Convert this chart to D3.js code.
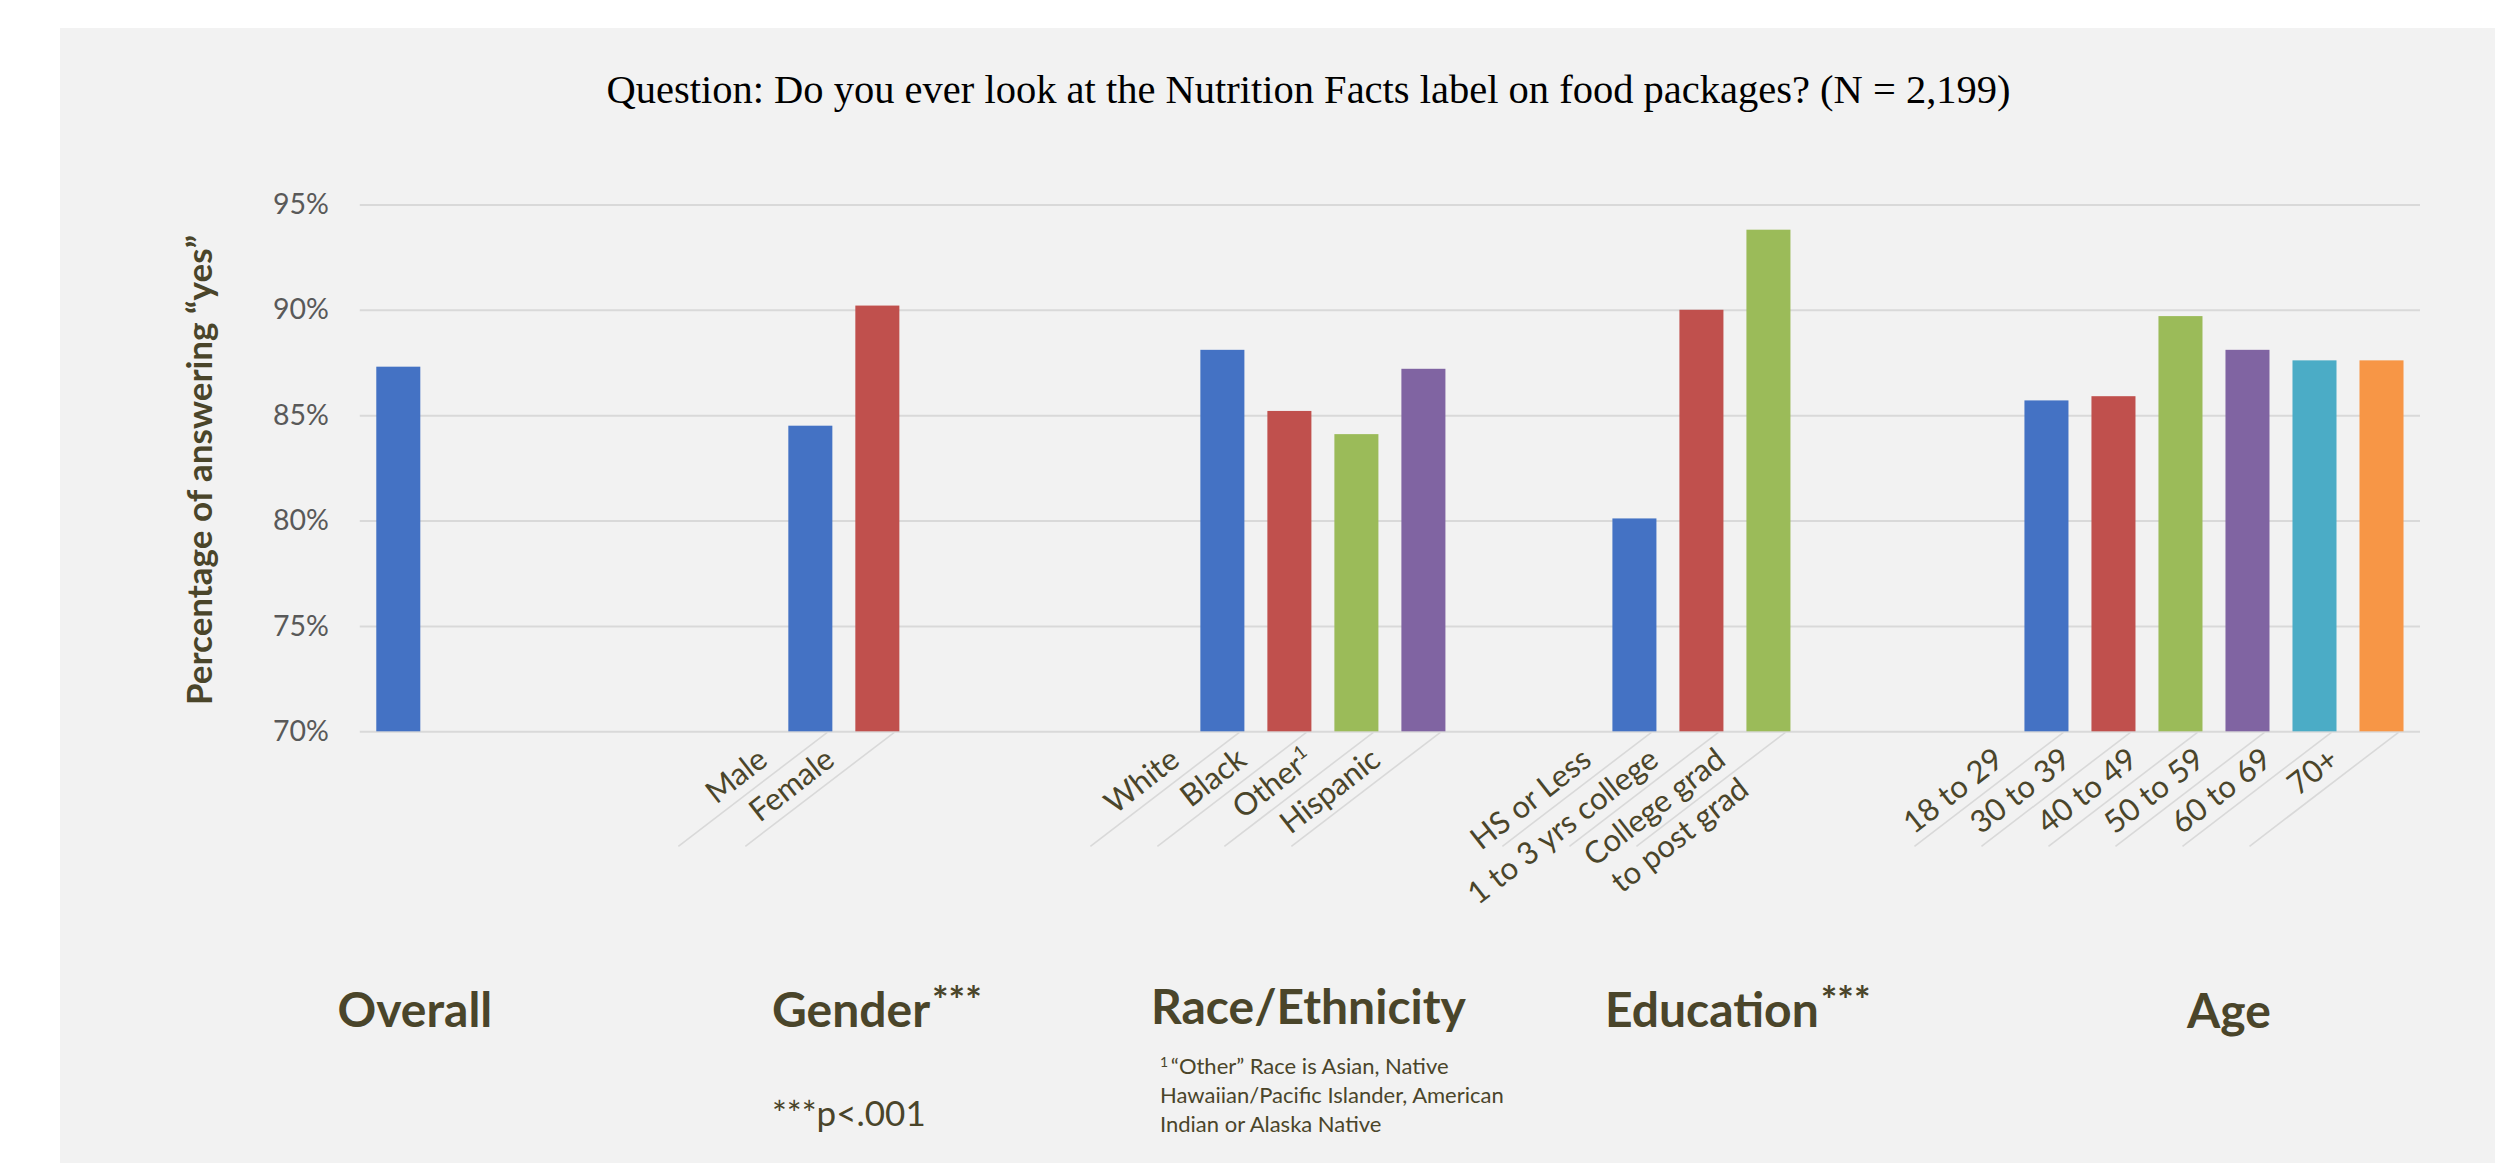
<!DOCTYPE html>
<html>
<head>
<meta charset="utf-8">
<script src="https://cdn.jsdelivr.net/npm/d3@7"></script>
<style>
  html, body { margin: 0; padding: 0; background: #ffffff; }
  svg { display: block; }
</style>
</head>
<body>
<svg id="chart" width="2495" height="1163"></svg>
<script>
// ---- data ----
const title = "Question: Do you ever look at the Nutrition Facts label on food packages? (N = 2,199)";
const yTitle = "Percentage of answering \u201Cyes\u201D";
const groups = ["Overall", "Gender", "Race/Ethnicity", "Education", "Age"];
const groupMarks = ["", "***", "", "***", ""];
const overallLabels = [""];
const genderLabels = ["Male", "Female"];
const raceLabels = ["White", "Black", "Other", "Hispanic"];
const educationLabels = ["HS or Less", "1 to 3 yrs college", "College grad\nto post grad"];
const ageLabels = ["18 to 29", "30 to 39", "40 to 49", "50 to 59", "60 to 69", "70+"];
const overallValues = [87.3];
const genderValues = [84.5, 90.2];
const raceValues = [88.1, 85.2, 84.1, 87.2];
const educationValues = [80.1, 90.0, 93.8];
const ageValues = [85.7, 85.9, 89.7, 88.1, 87.6, 87.6];
const yTicks = [70, 75, 80, 85, 90, 95];
const footnoteLines = ["\u201COther\u201D Race is Asian, Native", "Hawaiian/Pacific Islander, American", "Indian or Alaska Native"];
const significanceNote = "***p<.001";

const labelSets = [overallLabels, genderLabels, raceLabels, educationLabels, ageLabels];
const valueSets = [overallValues, genderValues, raceValues, educationValues, ageValues];

// ---- styling ----
const seriesColors = ["#4472C4", "#C0504D", "#9BBB59", "#8064A2", "#4BACC6", "#F79646"];
const textColor = "#4A452A";
const gridColor = "#D9D9D9";
const sans = "Lato, 'Open Sans', sans-serif";

// ---- layout ----
const plot = { left: 359.8, right: 2420, top: 204.4, bottom: 731.3 };

const svg = d3.select("#chart");

svg.append("rect")
  .attr("x", 60).attr("y", 28)
  .attr("width", 2495 - 60).attr("height", 1163 - 28)
  .attr("fill", "#F2F2F2");

const y = d3.scaleLinear().domain([70, 95]).range([plot.bottom, plot.top]);
const xGroup = d3.scaleBand().domain(groups).range([plot.left, plot.right]);
const xSlot = d3.scaleBand().domain(d3.range(6)).range([0, xGroup.bandwidth()])
  .paddingInner(0.343).paddingOuter(0.246);

// gridlines
const grid = svg.append("g")
  .attr("transform", `translate(${plot.left},0)`)
  .call(d3.axisLeft(y).tickValues(yTicks).tickSize(-(plot.right - plot.left)).tickFormat(""));
grid.select(".domain").remove();
grid.selectAll(".tick line").attr("stroke", gridColor).attr("stroke-width", 2);

// y tick labels
const yAxis = svg.append("g")
  .attr("transform", `translate(${plot.left},0)`)
  .call(d3.axisLeft(y).tickValues(yTicks).tickSize(0).tickPadding(31).tickFormat(d => d + "%"));
yAxis.select(".domain").remove();
yAxis.selectAll(".tick text")
  .attr("fill", "#595959")
  .style("font-family", sans)
  .style("font-size", "28.5px");

// bars
const bars = groups.flatMap((g, gi) => valueSets[gi].map((v, i) => ({
  group: g, slot: i, value: v, label: labelSets[gi][i]
})));
const cx = d => xGroup(d.group) + xSlot(d.slot) + xSlot.bandwidth() / 2;

svg.append("g").selectAll("rect")
  .data(bars)
  .join("rect")
  .attr("x", d => xGroup(d.group) + xSlot(d.slot))
  .attr("width", xSlot.bandwidth())
  .attr("y", d => y(d.value))
  .attr("height", d => y(70) - y(d.value))
  .attr("fill", d => seriesColors[d.slot]);

// slanted separators under each labelled bar
const labelled = bars.filter(d => d.label !== "");
svg.append("g").selectAll("line")
  .data(labelled)
  .join("line")
  .attr("x1", d => cx(d) + 17)
  .attr("y1", y(70) + 1)
  .attr("x2", d => cx(d) + 17 - 149)
  .attr("y2", y(70) + 115)
  .attr("stroke", gridColor)
  .attr("stroke-width", 1.6);

// rotated category labels
const catText = svg.append("g").selectAll("text")
  .data(labelled)
  .join("text")
  .attr("transform", d => `translate(${cx(d) - 41},${y(70) + 32}) rotate(-38)`)
  .attr("text-anchor", "end")
  .attr("fill", textColor)
  .style("font-family", sans)
  .style("font-size", "31px");

catText.each(function(d) {
  const t = d3.select(this);
  const lines = d.label.split("\n");
  lines.forEach((line, li) => {
    t.append("tspan").attr("x", 0).attr("dy", li === 0 ? 0 : "1.22em").text(line);
  });
  if (d.label === "Other") {
    t.append("tspan").attr("dy", "-0.6em").style("font-size", "19px").text("1");
  }
});

// title
svg.append("text")
  .attr("x", 1308.5).attr("y", 103)
  .attr("text-anchor", "middle")
  .attr("fill", "#000")
  .style("font-family", "'Liberation Serif', 'DejaVu Serif', serif")
  .style("font-size", "40.5px")
  .text(title);

// y axis title
svg.append("text")
  .attr("transform", "translate(212,470) rotate(-90)")
  .attr("text-anchor", "middle")
  .attr("fill", textColor)
  .style("font-family", sans)
  .style("font-weight", 700)
  .style("font-size", "35px")
  .text(yTitle);

// group headings beneath the axis
const headingPos = [[337.5, 1027], [772, 1027], [1151, 1024], [1605, 1027], [2187, 1028]];
groups.forEach((g, gi) => {
  const t = svg.append("text")
    .attr("x", headingPos[gi][0]).attr("y", headingPos[gi][1])
    .attr("fill", textColor)
    .style("font-family", sans)
    .style("font-weight", 700)
    .style("font-size", "48px");
  t.append("tspan").text(g);
  if (groupMarks[gi]) {
    t.append("tspan").attr("dx", 2).attr("dy", -13).style("font-size", "39px").text(groupMarks[gi]);
  }
});

// significance note
svg.append("text")
  .attr("x", 772).attr("y", 1126)
  .attr("fill", textColor)
  .style("font-family", sans)
  .style("font-size", "35px")
  .text(significanceNote);

// footnote for "Other"
const foot = svg.append("text")
  .attr("fill", textColor)
  .style("font-family", sans)
  .style("font-size", "22px");
footnoteLines.forEach((line, li) => {
  const t = foot.append("tspan").attr("x", 1160).attr("y", 1074 + li * 29);
  if (li === 0) {
    t.append("tspan").attr("dy", -7).style("font-size", "14px").text("1");
    t.append("tspan").attr("dy", 7).text("\u2009" + line);
  } else {
    t.text(line);
  }
});
</script>
</body>
</html>
